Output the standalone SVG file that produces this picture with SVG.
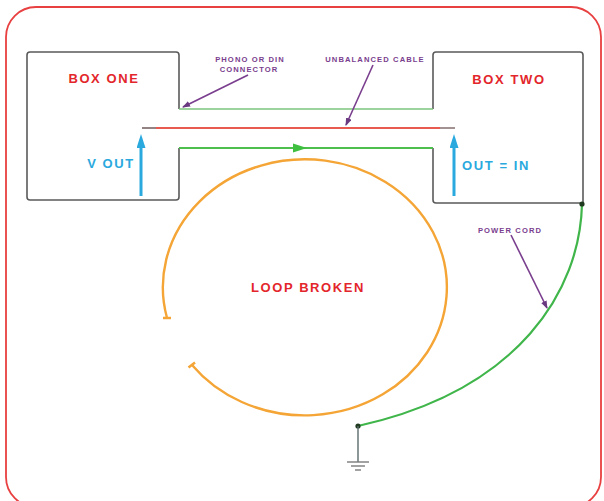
<svg xmlns="http://www.w3.org/2000/svg" width="604" height="501" viewBox="0 0 604 501">
<defs>
<style>
.box{fill:none;stroke:#5a5a5a;stroke-width:1.6}
.big{font-family:"Liberation Sans",Arial,sans-serif;font-weight:bold;font-size:13px;letter-spacing:1.6px;text-anchor:middle}
.red{fill:#e3262b}
.cyan{fill:#2aa9de}
.small{font-family:"Liberation Sans",Arial,sans-serif;font-weight:bold;font-size:7.6px;letter-spacing:1.1px;fill:#7a3e8e;text-anchor:middle}
.ptr{stroke:#7a3e8e;stroke-width:1.6;fill:none;marker-end:url(#pa)}
.cy{stroke:#2aa9de;stroke-width:3;fill:none;marker-end:url(#ca)}
</style>
<marker id="pa" markerWidth="8" markerHeight="6" refX="7" refY="3" orient="auto" markerUnits="userSpaceOnUse"><path d="M0,0 L8,3 L0,6 Z" fill="#6a3a80"/></marker>
<marker id="ca" markerWidth="14" markerHeight="9" refX="1" refY="4.5" orient="auto" markerUnits="userSpaceOnUse"><path d="M0,0 L14,4.5 L0,9 Z" fill="#2aa9de"/></marker>
</defs>
<rect width="604" height="501" fill="#fff"/>
<rect x="6" y="7" width="595" height="500" rx="30" ry="30" fill="none" stroke="#e84040" stroke-width="1.8"/>

<g id="box-one">
<path class="box" d="M179,109 V55 Q179,52 176,52 H30 Q27,52 27,55 V197 Q27,200 30,200 H176 Q179,200 179,197 V148"/>
<text class="big red" x="104" y="83">BOX ONE</text>
<text class="big cyan" x="111" y="168">V OUT</text>
</g>

<g id="box-two">
<path class="box" d="M433,109 V55 Q433,52 436,52 H580 Q583,52 583,55 V203 H436 Q433,203 433,200 V148"/>
<text class="big red" x="509" y="84">BOX TWO</text>
<text class="big cyan" x="496" y="170">OUT = IN</text>
</g>

<g id="loop-label">
<text class="big red" x="308" y="292">LOOP BROKEN</text>
</g>

<g id="labels">
<text class="small" x="250" y="62">PHONO OR DIN</text>
<text class="small" x="249" y="72">CONNECTOR</text>
<text class="small" x="375" y="62">UNBALANCED CABLE</text>
<text class="small" x="510" y="233">POWER CORD</text>
</g>

<g id="connectors">
<line x1="179" y1="109" x2="433" y2="109" stroke="#7cc47c" stroke-width="1.6"/>
<line x1="179" y1="148" x2="433" y2="148" stroke="#4cbf4c" stroke-width="1.8"/>
<path d="M293,143.5 L307,148 L293,152.5 Z" fill="#3fbf3f"/>
<line x1="142" y1="128" x2="455" y2="128" stroke="#e85a50" stroke-width="1.8"/>
<line x1="142" y1="128" x2="156" y2="128" stroke="#8a8a8a" stroke-width="1.8"/>
<line x1="440" y1="128" x2="455" y2="128" stroke="#9a9a9a" stroke-width="1.8"/>
<line class="cy" x1="141" y1="196" x2="141" y2="147"/>
<line class="cy" x1="454" y1="196" x2="454" y2="147"/>
<line class="ptr" x1="248" y1="75" x2="183" y2="107"/>
<line class="ptr" x1="373" y1="65" x2="346" y2="125"/>
<line class="ptr" x1="511" y1="235" x2="547" y2="308"/>
<path d="M167,318 A142,128 0 1 1 192,365" fill="none" stroke="#f4a535" stroke-width="2.4"/>
<line x1="163" y1="318" x2="171" y2="318" stroke="#f4a535" stroke-width="2.5"/>
<line x1="188.5" y1="367.5" x2="195" y2="362.5" stroke="#f4a535" stroke-width="2.5"/>
<path d="M582,204 C580,290 520,390 358,426" fill="none" stroke="#3fb54a" stroke-width="2.2"/>
<circle cx="582" cy="204" r="2.6" fill="#1f3a1f"/>
<circle cx="358" cy="426" r="2.6" fill="#1f3a1f"/>
</g>

<g id="ground">
<line x1="358" y1="426" x2="358" y2="462" stroke="#5b6b6b" stroke-width="1.4"/>
<line x1="347" y1="462" x2="369" y2="462" stroke="#7a7a7a" stroke-width="1.4"/>
<line x1="351" y1="466" x2="365" y2="466" stroke="#7a7a7a" stroke-width="1.4"/>
<line x1="355" y1="470" x2="361" y2="470" stroke="#7a7a7a" stroke-width="1.4"/>
</g>
</svg>
